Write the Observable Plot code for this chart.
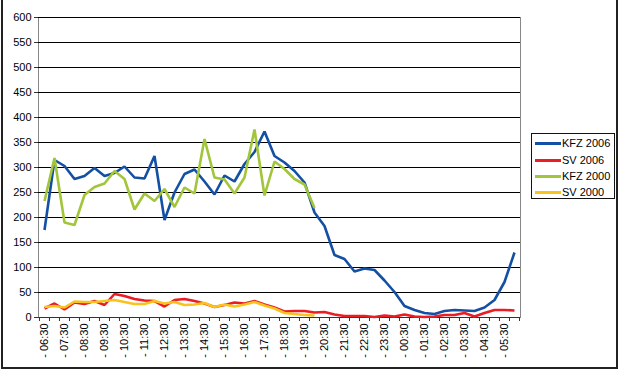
<!DOCTYPE html>
<html>
<head>
<meta charset="utf-8">
<script src="https://cdn.jsdelivr.net/npm/d3@7"></script>
<script src="https://cdn.jsdelivr.net/npm/@observablehq/plot@0.6"></script>
<style>
  body { margin: 0; background: #fff; font-family: "Liberation Sans", Arial, sans-serif; }
  #wrap { position: relative; width: 620px; height: 370px; overflow: hidden; }
  #border { position: absolute; left: 1px; top: -2px; width: 617px; height: 371px; box-sizing: border-box; border: 2px solid #222; pointer-events: none; }
  #legend { position: absolute; left: 531px; top: 133px; width: 84px; height: 66px; box-sizing: border-box; border: 1px solid #111; background: #fff; }
  .row { position: absolute; left: 0; height: 14px; }
  .sw { position: absolute; left: 3px; top: 6px; width: 26px; height: 3px; }
  .lb { position: absolute; left: 30px; top: 0; font-size: 11px; line-height: 14px; color: #000; white-space: nowrap; }
</style>
</head>
<body>
<div id="wrap"><div id="chart"></div><div id="legend"></div><div id="border"></div></div>
<script>
const categories = ["- 06:30","- 07:00","- 07:30","- 08:00","- 08:30","- 09:00","- 09:30","- 10:00","- 10:30","- 11:00","- 11:30","- 12:00","- 12:30","- 13:00","- 13:30","- 14:00","- 14:30","- 15:00","- 15:30","- 16:00","- 16:30","- 17:00","- 17:30","- 18:00","- 18:30","- 19:00","- 19:30","- 20:00","- 20:30","- 21:00","- 21:30","- 22:00","- 22:30","- 23:00","- 23:30","- 00:00","- 00:30","- 01:00","- 01:30","- 02:00","- 02:30","- 03:00","- 03:30","- 04:00","- 04:30","- 05:00","- 05:30","- 06:00"];
const yTicks = [0,50,100,150,200,250,300,350,400,450,500,550,600];

const kfz2006 = [175,315,303,277,283,299,283,289,302,280,278,323,195,250,287,296,272,246,284,272,307,331,372,323,310,293,270,210,183,125,117,92,98,95,74,51,23,15,9,7,13,15,14,13,20,35,71,130];
const sv2006  = [18,28,16,30,27,33,25,47,43,37,34,33,22,35,37,33,28,21,25,30,28,33,26,20,12,13,13,10,11,6,3,3,3,1,4,2,6,2,1,2,5,5,9,2,9,15,15,14];
const kfz2000 = [233,319,190,185,245,261,268,293,277,216,248,233,257,221,260,248,357,280,276,248,280,376,244,312,297,277,266,219];
const sv2000  = [21,23,20,32,31,31,33,35,31,27,27,33,28,31,25,26,29,21,26,22,26,31,24,18,9,7,5,4];

const seriesNames = ["KFZ 2006","SV 2006","KFZ 2000","SV 2000"];
const seriesValues = [kfz2006, sv2006, kfz2000, sv2000];
const seriesColors = ["#1350A3","#EC1C24","#A2C53A","#F9C31C"];

const rows = [];
seriesValues.forEach((vals, s) => vals.forEach((v, i) => rows.push({series: seriesNames[s], cat: categories[i], value: v})));

const W = 620, H = 370, mL = 38, mR = 100, mT = 17, mB = 53;
const step = (W - mL - mR) / categories.length;
const labelCats = categories.filter((d, i) => i % 2 === 0);

const chart = Plot.plot({
  width: W, height: H,
  marginLeft: mL, marginRight: mR, marginTop: mT, marginBottom: mB,
  style: {fontFamily: "'Liberation Sans', Arial, sans-serif", fontSize: "11px", background: "#fff", color: "#000"},
  x: {type: "band", domain: categories, padding: 0, axis: null},
  y: {domain: [0, 600], axis: null},
  color: {domain: seriesNames, range: seriesColors},
  marks: [
    Plot.frame({stroke: "#888", strokeWidth: 1}),
    Plot.gridY(yTicks, {stroke: "#000", strokeOpacity: 1, strokeWidth: 1}),
    Plot.ruleY([0], {stroke: "#333", strokeWidth: 1}),
    Plot.axisY({ticks: yTicks, tickSize: 4, tickPadding: 3, fontSize: 11, label: null, stroke: "#333"}),
    Plot.ruleX(categories, {x: d => d, y1: 0, y2: -8, dx: -step / 2, stroke: "#333"}),
    Plot.ruleX(categories.slice(-1), {x: d => d, y1: 0, y2: -8, dx: step / 2, stroke: "#333"}),
    Plot.axisX({ticks: labelCats, tickSize: 0, tickPadding: 6, tickRotate: -90, fontSize: 11, label: null}),
    Plot.lineY(rows, {x: "cat", y: "value", z: "series", stroke: "series", strokeWidth: 2.6, strokeLinejoin: "miter", strokeLinecap: "butt"})
  ]
});
document.getElementById("chart").appendChild(chart);

const legend = document.getElementById("legend");
const rowTops = [2, 18.5, 35, 51];
seriesNames.forEach((name, i) => {
  const r = document.createElement("div");
  r.className = "row";
  r.style.top = rowTops[i] + "px";
  r.innerHTML = `<div class="sw" style="background:${seriesColors[i]}"></div><div class="lb">${name}</div>`;
  legend.appendChild(r);
});
</script>
</body>
</html>
